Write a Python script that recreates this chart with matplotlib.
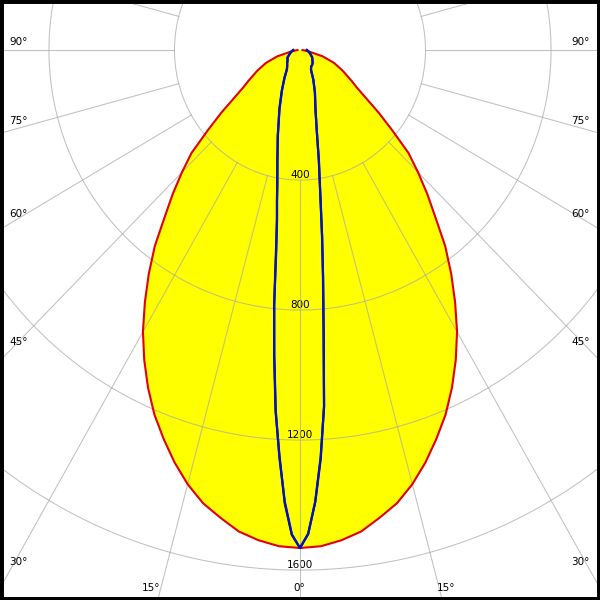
import numpy as np
import matplotlib
matplotlib.use('Agg')
import matplotlib.pyplot as plt

red_angles = [0, 2.5, 5, 7.5, 10, 12.5, 15, 17.5, 20, 22.5, 25, 27.5, 30, 32.5, 35, 37.5, 40, 42.5,
              45, 47.5, 50, 52.5, 55, 57.5, 60, 65, 70, 75, 80, 85, 90]
red_cd = [1532, 1528, 1514, 1494, 1461, 1428, 1383, 1330, 1272, 1213, 1146, 1075, 1001, 920, 840, 760, 671, 600,
          532, 469, 383, 315, 255, 215, 190, 150, 115, 75, 32, 15, 8]

blue_angles = [0, 1, 2, 3, 4, 5, 6, 7, 8, 9, 10, 12, 15, 20, 25, 30, 35, 40, 45, 50, 60, 70, 80, 90]
blue_left = [1532, 1490, 1390, 1255, 1110, 940, 790, 620, 530, 467, 415, 345, 275, 190, 135, 100, 72, 64, 58, 52, 46, 35, 28, 22]
blue_right = [1532, 1490, 1390, 1255, 1100, 860, 700, 580, 470, 400, 345, 260, 190, 140, 100, 70, 62, 60, 57, 52, 45, 35, 28, 22]
black_left = [1532, 1492, 1395, 1250, 1115, 945, 785, 630, 525, 470, 418, 348, 272, 192, 137, 98, 74, 63, 58, 52, 46, 35, 28, 22]
black_right = [1532, 1488, 1392, 1260, 1098, 865, 705, 575, 475, 398, 348, 258, 192, 138, 101, 70, 62, 60, 57, 52, 45, 35, 28, 22]

ring_values = [400, 800, 1200, 1600]
ray_angles = list(range(0, 360, 15))
angle_labels = ['90°', '75°', '60°', '45°', '30°', '15°', '0°', '15°', '30°', '45°', '60°', '75°', '90°']


def to_xy(angles, left, right):
    # gauche : de 90 a 0, droite : de 0 a 90 ; 0 deg vers le bas
    a = np.deg2rad(np.concatenate([np.array(angles)[::-1], np.array(angles)]))
    r = np.concatenate([np.array(left)[::-1], np.array(right)])
    sgn = np.concatenate([-np.ones(len(angles)), np.ones(len(angles))])
    return sgn * r * np.sin(a), -r * np.cos(a)


fig = plt.figure(figsize=(6, 6), dpi=100)
ax = fig.add_axes([0, 0, 1, 1])
ax.set_xlim(-956, 956)
ax.set_ylim(-1692, 154)
ax.set_xticks([])
ax.set_yticks([])
for s in ax.spines.values():
    s.set_linewidth(5)
    s.set_color('black')
    s.set_zorder(10)

# courbe rouge remplie
xr, yr = to_xy(red_angles, red_cd, red_cd)
ax.fill(xr, yr, color='#ffff00', zorder=1, lw=0)

# grille polaire
gcol = '#a8a8a8'
t = np.linspace(0, 2 * np.pi, 400)
for v in ring_values:
    ax.plot(v * np.sin(t), v * np.cos(t), color=gcol, alpha=0.72, lw=0.75, zorder=2)
for a in ray_angles:
    ar = np.deg2rad(a)
    ax.plot([400 * np.sin(ar), 3000 * np.sin(ar)], [-400 * np.cos(ar), -3000 * np.cos(ar)],
            color=gcol, alpha=0.72, lw=0.75, zorder=2)

# valeurs des cercles
for v in ring_values:
    ax.annotate(str(v), (0, -v), xytext=(0, 1.5), textcoords='offset points',
                ha='center', va='baseline', fontsize=7.5, zorder=1.5)

# courbes
ax.plot(xr, yr, color='#e00000', lw=1.5, zorder=3)
xk, yk = to_xy(blue_angles, black_left, black_right)
ax.plot(xk, yk, color='#101010', lw=1.6, zorder=3)
xb, yb = to_xy(blue_angles, blue_left, blue_right)
ax.plot(xb, yb, color='#0010d0', lw=1.6, zorder=3.1)

# etiquettes des angles (position en pixels de la figure)
lab_pos = [(9, 42, 'left'), (9, 121, 'left'), (9, 214, 'left'), (9, 342, 'left'), (9, 562, 'left'),
           (151, 588, 'center'), (299, 588, 'center'), (446, 588, 'center'),
           (590, 562, 'right'), (590, 342, 'right'), (590, 214, 'right'), (590, 121, 'right'), (590, 42, 'right')]
for lab, (px, py, ha) in zip(angle_labels, lab_pos):
    fig.text(px / 600, 1 - py / 600, lab, ha=ha, va='center', fontsize=7.5, zorder=5)

fig.savefig('out.png', dpi=100, facecolor='white')
